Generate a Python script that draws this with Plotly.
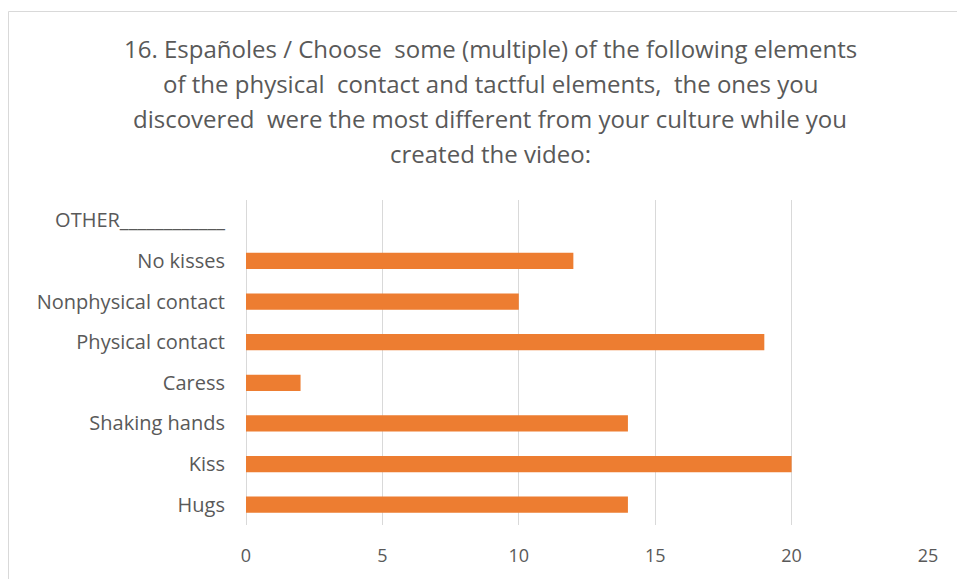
import plotly.graph_objects as go

# Survey answers (bottom-to-top order as drawn)
categories = ["Hugs", "Kiss", "Shaking hands", "Caress", "Physical contact",
              "Nonphysical contact", "No kisses", "OTHER____________"]
counts = [14, 20, 14, 2, 19, 10, 12, 0]

x_ticks = [0, 5, 10, 15, 20, 25]

title_lines = [
    "16. Españoles / Choose  some (multiple) of the following elements",
    "of the physical  contact and tactful elements,  the ones you",
    "discovered  were the most different from your culture while you",
    "created the video:",
]

W, H = 957, 579
ML, MR, MT, MB = 246, 29, 200, 54
PW, PH = W - ML - MR, H - MT - MB

TEXT = "#595959"
GRID = "#D9D9D9"
BAR = "#ED7D31"
FONT = "Open Sans"


def px_x(px):
    return (px - ML) / PW


def px_y(py):
    return (H - MB - py) / PH


fig = go.Figure(
    go.Bar(
        x=counts,
        y=categories,
        orientation="h",
        marker=dict(color=BAR, line=dict(width=0)),
        hoverinfo="x+y",
    )
)

annotations = []
for i, line in enumerate(title_lines):
    annotations.append(dict(
        text=line, x=px_x(490), y=px_y(48 + i * 35.3),
        xref="paper", yref="paper", xanchor="center", yanchor="middle",
        showarrow=False, font=dict(family=FONT, size=24, color=TEXT),
    ))

fig.update_layout(
    width=W, height=H,
    margin=dict(l=ML, r=MR, t=MT, b=MB),
    paper_bgcolor="white",
    plot_bgcolor="white",
    bargap=0.6,
    showlegend=False,
    annotations=annotations,
    shapes=[dict(
        type="rect", xref="paper", yref="paper",
        x0=px_x(8.5), x1=px_x(975), y0=px_y(600), y1=px_y(11.5),
        line=dict(color=GRID, width=1), fillcolor="rgba(0,0,0,0)", layer="below",
    )],
    xaxis=dict(
        range=[0, 25], tickvals=x_ticks, ticktext=[str(v) for v in x_ticks],
        showgrid=True, gridcolor=GRID, gridwidth=1,
        zeroline=True, zerolinecolor=GRID, zerolinewidth=1,
        showline=False, ticks="outside", ticklen=14, tickcolor="rgba(0,0,0,0)",
        tickfont=dict(family=FONT, size=18, color=TEXT), fixedrange=True,
    ),
    yaxis=dict(
        categoryorder="array", categoryarray=categories,
        showgrid=False, zeroline=False, showline=False,
        ticks="outside", ticklen=16, tickcolor="rgba(0,0,0,0)",
        tickfont=dict(family=FONT, size=20, color=TEXT), fixedrange=True,
    ),
)

fig.write_html("out.html")
